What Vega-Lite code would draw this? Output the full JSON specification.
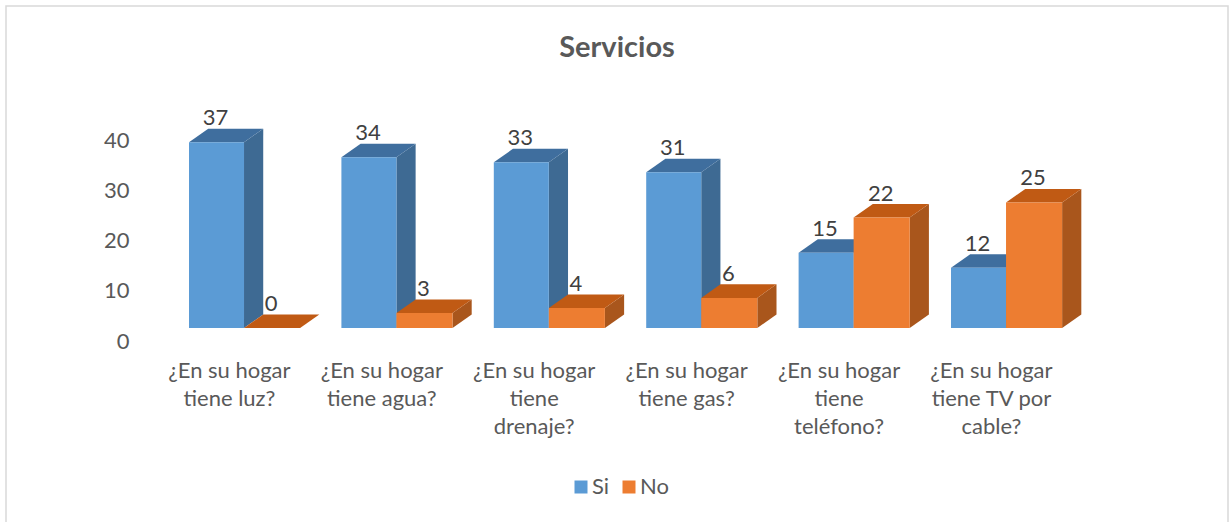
{
"$schema":"https://vega.github.io/schema/vega-lite/v6.json",
"width":1222,"height":520,
"autosize":{"type":"none"},
"padding":{"left":6,"top":6,"right":1,"bottom":0},
"background":"white",
"view":{"stroke":"#d9d9d9","strokeWidth":1.5,"fill":"white"},
"title":{"text":"Servicios","anchor":"middle","frame":"group","offset":-57,"font":"Lato","fontSize":29,"fontWeight":"bold","color":"#595959"},
"data":{"values":[
{"grupo":0,"serie":"Si","valor":37},{"grupo":0,"serie":"No","valor":0},
{"grupo":1,"serie":"Si","valor":34},{"grupo":1,"serie":"No","valor":3},
{"grupo":2,"serie":"Si","valor":33},{"grupo":2,"serie":"No","valor":4},
{"grupo":3,"serie":"Si","valor":31},{"grupo":3,"serie":"No","valor":6},
{"grupo":4,"serie":"Si","valor":15},{"grupo":4,"serie":"No","valor":22},
{"grupo":5,"serie":"Si","valor":12},{"grupo":5,"serie":"No","valor":25}
]},
"transform":[
{"calculate":"datum.grupo+(datum.serie==='Si'?0:0.361)","as":"x0"},
{"calculate":"datum.x0+(datum.serie==='Si'?0.361:0.368)","as":"x1"},
{"calculate":"[0,1]","as":"t"},
{"flatten":["t"]},
{"calculate":"datum.x1+datum.t*0.126","as":"sx"},
{"calculate":"datum.valor+datum.t*2.69","as":"sy"},
{"calculate":"datum.t*2.69","as":"sy2"},
{"calculate":"datum.x0+datum.t*0.126","as":"tx"},
{"calculate":"datum.x1+datum.t*0.126","as":"tx2"}
],
"encoding":{},
"layer":[
{"transform":[{"filter":"datum.serie==='Si'"}],"mark":{"type":"area","orient":"vertical","color":"#3E6A93"},
 "encoding":{"x":{"field":"sx","type":"quantitative","scale":{"domain":[-1.2008,6.8175],"nice":false,"zero":false},
   "axis":{"orient":"bottom","title":null,"domain":false,"ticks":false,"grid":false,"values":[0.262,1.262,2.262,3.262,4.262,5.262],"offset":-166,"labelPadding":0,"labelFont":"Lato","labelFontSize":22,"labelColor":"#595959","labelLimit":400,"labelOverlap":false,"labelFlush":false,"labelBound":false,"labelBaseline":"top","labelLineHeight":28,
   "labelExpr":"[['¿En su hogar','tiene luz?'],['¿En su hogar','tiene agua?'],['¿En su hogar','tiene','drenaje?'],['¿En su hogar','tiene gas?'],['¿En su hogar','tiene','teléfono?'],['¿En su hogar','tiene TV por','cable?']][floor(datum.value)]"}},
  "y":{"field":"sy","type":"quantitative","scale":{"domain":[-39.44,64.14],"nice":false,"zero":false},
   "axis":{"title":null,"domain":false,"ticks":false,"grid":false,"values":[0,10,20,30,40],"offset":-125,"labelPadding":2,"labelOffset":13,"labelFont":"Lato","labelFontSize":22,"labelColor":"#595959"}},
  "y2":{"field":"sy2"},"detail":{"field":"grupo"}}},
{"transform":[{"filter":"datum.serie==='Si'"}],"mark":{"type":"area","orient":"horizontal","color":"#3F6E9E"},
 "encoding":{"x":{"field":"tx","type":"quantitative"},"x2":{"field":"tx2"},"y":{"field":"sy","type":"quantitative"},"detail":{"field":"grupo"}}},
{"transform":[{"filter":"datum.serie==='Si' && datum.t===0"}],"mark":{"type":"rect"},
 "encoding":{"x":{"field":"x0","type":"quantitative"},"x2":{"field":"x1"},"y":{"field":"valor","type":"quantitative"},"y2":{"datum":0},
  "color":{"field":"serie","type":"nominal","scale":{"domain":["Si","No"],"range":["#5B9BD5","#ED7D31"]},
   "legend":{"title":null,"orient":"none","legendX":564,"legendY":470,"direction":"horizontal","columns":2,"symbolType":"square","symbolSize":169,"symbolStrokeWidth":0,"labelFont":"Lato","labelFontSize":22,"labelColor":"#595959","columnPadding":8,"labelOffset":0}}}},
{"transform":[{"filter":"datum.serie==='No'"}],"mark":{"type":"area","orient":"vertical","color":"#A9561C"},
 "encoding":{"x":{"field":"sx","type":"quantitative"},"y":{"field":"sy","type":"quantitative"},"y2":{"field":"sy2"},"detail":{"field":"grupo"}}},
{"transform":[{"filter":"datum.serie==='No'"}],"mark":{"type":"area","orient":"horizontal","color":"#C05A14"},
 "encoding":{"x":{"field":"tx","type":"quantitative"},"x2":{"field":"tx2"},"y":{"field":"sy","type":"quantitative"},"detail":{"field":"grupo"}}},
{"transform":[{"filter":"datum.serie==='No' && datum.t===0"}],"mark":{"type":"rect"},
 "encoding":{"x":{"field":"x0","type":"quantitative"},"x2":{"field":"x1"},"y":{"field":"valor","type":"quantitative"},"y2":{"datum":0},
  "color":{"field":"serie","type":"nominal"}}},
{"transform":[{"filter":"datum.t===0"},{"calculate":"(datum.x0+datum.x1)/2","as":"cx"}],"mark":{"type":"text","dx":-1,"dy":-24,"font":"Lato","fontSize":22,"color":"#404040","baseline":"middle"},
 "encoding":{"x":{"field":"cx","type":"quantitative"},"y":{"field":"valor","type":"quantitative"},"text":{"field":"valor","type":"quantitative"}}}
]
}
